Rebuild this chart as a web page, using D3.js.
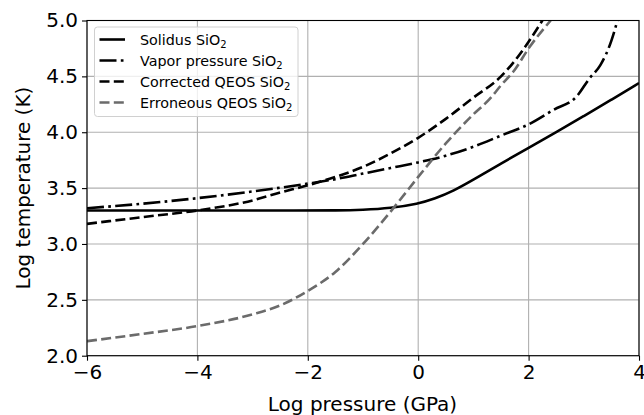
<!DOCTYPE html>
<html><head><meta charset="utf-8">
<script src="https://cdn.jsdelivr.net/npm/d3@7"></script>
<style>body{margin:0;background:#fff}svg{display:block}text{font-family:"DejaVu Sans",sans-serif}</style>
</head><body><svg id="c" width="644" height="415"></svg>
<script>
const xTicks = [-6, -4, -2, 0, 2, 4];
const yTicks = [2.0, 2.5, 3.0, 3.5, 4.0, 4.5, 5.0];
const solidusX = [-6, -4, -2, -1.5, -1, -0.5, 0, 0.3, 0.64, 1.0, 1.5, 2.0, 2.5, 3.0, 3.5, 4.0];
const solidusY = [3.30, 3.30, 3.30, 3.30, 3.305, 3.32, 3.36, 3.405, 3.475, 3.575, 3.72, 3.86, 4.0, 4.145, 4.29, 4.44];
const vaporX = [-6, -5, -4, -3, -2, -1.5, -1, -0.5, 0, 0.5, 1.0, 1.5, 2.0, 2.45, 2.87, 3.1, 3.3, 3.5, 3.61];
const vaporY = [3.32, 3.36, 3.41, 3.47, 3.54, 3.58, 3.63, 3.68, 3.73, 3.79, 3.87, 3.97, 4.07, 4.20, 4.32, 4.48, 4.60, 4.82, 5.0];
const corrX = [-6, -5, -4, -3, -2.5, -2, -1.5, -1, -0.5, 0, 0.5, 1.0, 1.5, 1.75, 2.0, 2.25];
const corrY = [3.18, 3.24, 3.30, 3.39, 3.46, 3.525, 3.60, 3.69, 3.81, 3.95, 4.12, 4.31, 4.50, 4.64, 4.81, 5.0];
const errX = [-6, -5, -4, -3, -2.5, -2, -1.5, -1, -0.5, 0, 0.5, 1.0, 1.3, 1.5, 1.75, 2.0, 2.4];
const errY = [2.13, 2.195, 2.265, 2.37, 2.45, 2.58, 2.75, 3.00, 3.29, 3.60, 3.90, 4.16, 4.30, 4.42, 4.56, 4.75, 5.0];
const labels = ["Solidus SiO", "Vapor pressure SiO", "Corrected QEOS SiO", "Erroneous QEOS SiO"];

const svg = d3.select("#c");
const L = 87, R = 639, T = 20.5, B = 355.7;
const x = d3.scaleLinear().domain([-6, 4]).range([L, R]);
const y = d3.scaleLinear().domain([2, 5]).range([B, T]);

// grid
const g = svg.append("g");
g.selectAll(".gx").data(xTicks).join("line").attr("x1", d => x(d)).attr("x2", d => x(d))
  .attr("y1", T).attr("y2", B).attr("stroke", "#b0b0b0").attr("stroke-width", 1.1);
g.selectAll(".gy").data(yTicks).join("line").attr("y1", d => y(d)).attr("y2", d => y(d))
  .attr("x1", L).attr("x2", R).attr("stroke", "#b0b0b0").attr("stroke-width", 1.1);

svg.append("defs").append("clipPath").attr("id", "clip").append("rect")
  .attr("x", L).attr("y", T).attr("width", R - L).attr("height", B - T);

const series = [
  {xs: solidusX, ys: solidusY, color: "#000", dash: null, curve: d3.curveBasis},
  {xs: vaporX, ys: vaporY, color: "#000", dash: "17,4.3,2.7,4.3", curve: d3.curveMonotoneX},
  {xs: corrX, ys: corrY, color: "#000", dash: "10,4.3", curve: d3.curveMonotoneX},
  {xs: errX, ys: errY, color: "#6b6b6b", dash: "10,4.3", curve: d3.curveMonotoneX}
];
const lg = svg.append("g").attr("clip-path", "url(#clip)");
series.forEach(s => {
  const line = d3.line().x(d => x(d[0])).y(d => y(d[1])).curve(s.curve);
  lg.append("path").datum(s.xs.map((v, i) => [v, s.ys[i]]))
    .attr("d", line).attr("fill", "none").attr("stroke", s.color)
    .attr("stroke-width", 2.6).attr("stroke-dasharray", s.dash);
});

// axes
const fmtX = d => (d < 0 ? "\u2212" + Math.abs(d) : String(d));
const xa = svg.append("g").attr("transform", `translate(0,${B})`)
  .call(d3.axisBottom(x).tickValues(xTicks).tickFormat(fmtX).tickSize(5).tickPadding(4));
const ya = svg.append("g").attr("transform", `translate(${L},0)`)
  .call(d3.axisLeft(y).tickValues(yTicks).tickFormat(d3.format(".1f")).tickSize(5).tickPadding(4));
[xa, ya].forEach(a => {
  a.select(".domain").remove();
  a.selectAll("line").attr("stroke", "#000").attr("stroke-width", 1.1);
  a.selectAll("text").attr("font-size", 20).attr("fill", "#000").attr("font-family", "DejaVu Sans");
});
svg.append("rect").attr("x", L).attr("y", T).attr("width", R - L).attr("height", B - T)
  .attr("fill", "none").attr("stroke", "#000").attr("stroke-width", 1.1);

svg.append("text").attr("x", (L + R) / 2 - 0.5).attr("y", 411).attr("text-anchor", "middle")
  .attr("font-size", 20).text("Log pressure (GPa)");
svg.append("text").attr("transform", `translate(30,${(T + B) / 2}) rotate(-90)`)
  .attr("text-anchor", "middle").attr("font-size", 20).text("Log temperature (K)");

// legend
const leg = svg.append("g");
leg.append("rect").attr("x", 94.5).attr("y", 27).attr("width", 203.5).attr("height", 89.5)
  .attr("rx", 3).attr("fill", "#fff").attr("fill-opacity", 0.8).attr("stroke", "#d0d0d0").attr("stroke-width", 1);
series.forEach((s, i) => {
  const yy = 39.5 + i * 21;
  leg.append("line").attr("x1", 99.5).attr("x2", 125).attr("y1", yy).attr("y2", yy)
    .attr("stroke", s.color).attr("stroke-width", 2.6).attr("stroke-dasharray", s.dash);
  const t = leg.append("text").attr("x", 140).attr("y", yy + 5).attr("font-size", 14.3).attr("fill", "#000");
  t.append("tspan").text(labels[i]);
  t.append("tspan").attr("font-size", 10).attr("dy", 3.2).text("2");
});
</script></body></html>
